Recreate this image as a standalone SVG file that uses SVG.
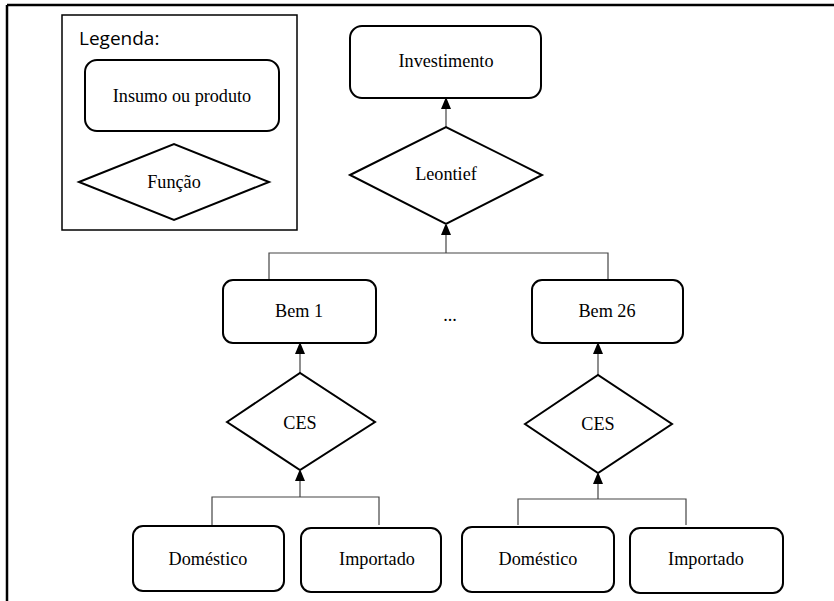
<svg xmlns="http://www.w3.org/2000/svg" width="834" height="601" viewBox="0 0 834 601">
<defs>
<style>
.box{fill:#fff;stroke:#000;stroke-width:2}
.dia{fill:#fff;stroke:#000;stroke-width:2}
.t{font-family:'Liberation Serif','Times New Roman','DejaVu Serif',serif;font-size:18.2px;fill:#000;text-anchor:middle}
.c{fill:none;stroke:#444;stroke-width:1.2}
</style>
<marker id="ah" viewBox="0 0 10 12" refX="10" refY="5" markerWidth="10" markerHeight="12" markerUnits="userSpaceOnUse" orient="auto">
<path d="M0,0 L12,5 L0,10 z" fill="#000"/>
</marker>
</defs>
<rect width="834" height="601" fill="#fff"/>
<g id="frame">
<line x1="7" y1="5" x2="834" y2="5" stroke="#000" stroke-width="2.5"/>
<line x1="7" y1="5" x2="7" y2="601" stroke="#000" stroke-width="2.5"/>
</g>
<g id="legend">
<rect x="62" y="15" width="235" height="215" fill="#fff" stroke="#000" stroke-width="1.5"/>
<text x="79" y="45" font-family="'Open Sans','Noto Sans',sans-serif" font-size="19" fill="#000">Legenda:</text>
<rect class="box" x="85" y="60" width="194" height="71" rx="12"/>
<text class="t" x="182" y="102" font-family="Liberation Serif, serif">Insumo ou produto</text>
<polygon class="dia" points="79,182 174,144 269,182 174,220"/>
<text class="t" x="174" y="188" font-family="Liberation Serif, serif">Função</text>
</g>
<g id="connectors">
<line class="c" x1="446" y1="127" x2="446" y2="99" marker-end="url(#ah)"/>
<polyline class="c" points="269,280 269,253 608,253 608,280"/>
<line class="c" x1="446" y1="253" x2="446" y2="225" marker-end="url(#ah)"/>
<line class="c" x1="300" y1="373" x2="300" y2="344" marker-end="url(#ah)"/>
<line class="c" x1="598" y1="375" x2="598" y2="344" marker-end="url(#ah)"/>
<polyline class="c" points="212,525 212,497 379,497 379,525"/>
<line class="c" x1="300" y1="497" x2="300" y2="471" marker-end="url(#ah)"/>
<polyline class="c" points="518,525 518,499 686,499 686,525"/>
<line class="c" x1="598" y1="499" x2="598" y2="474" marker-end="url(#ah)"/>
</g>
<g id="investimento">
<rect class="box" x="350" y="26" width="191" height="72" rx="12"/>
<text class="t" x="446" y="67" font-family="Liberation Serif, serif">Investimento</text>
</g>
<g id="leontief">
<polygon class="dia" points="350,175 446,127 542,175 446,224"/>
<text class="t" x="446" y="180" font-family="Liberation Serif, serif">Leontief</text>
</g>
<g id="bem1">
<rect class="box" x="223" y="280" width="153" height="63" rx="10"/>
<text class="t" x="299" y="317" font-family="Liberation Serif, serif">Bem 1</text>
</g>
<g id="dots">
<text class="t" x="450" y="321" font-family="Liberation Serif, serif">...</text>
</g>
<g id="bem26">
<rect class="box" x="532" y="280" width="151" height="63" rx="10"/>
<text class="t" x="607" y="317" font-family="Liberation Serif, serif">Bem 26</text>
</g>
<g id="ces1">
<polygon class="dia" points="227,422 300,373 375,422 300,470"/>
<text class="t" x="300" y="429" font-family="Liberation Serif, serif">CES</text>
</g>
<g id="ces2">
<polygon class="dia" points="525,424 598,375 672,424 598,473"/>
<text class="t" x="598" y="430" font-family="Liberation Serif, serif">CES</text>
</g>
<g id="domestico1">
<rect class="box" x="133" y="526" width="151" height="65" rx="10"/>
<text class="t" x="208" y="565" font-family="Liberation Serif, serif">Doméstico</text>
</g>
<g id="importado1">
<rect class="box" x="301" y="528" width="140" height="64" rx="10"/>
<text class="t" x="377" y="565" font-family="Liberation Serif, serif">Importado</text>
</g>
<g id="domestico2">
<rect class="box" x="462" y="527" width="152" height="65" rx="10"/>
<text class="t" x="538" y="565" font-family="Liberation Serif, serif">Doméstico</text>
</g>
<g id="importado2">
<rect class="box" x="630" y="528" width="153" height="65" rx="10"/>
<text class="t" x="706" y="565" font-family="Liberation Serif, serif">Importado</text>
</g>
</svg>
